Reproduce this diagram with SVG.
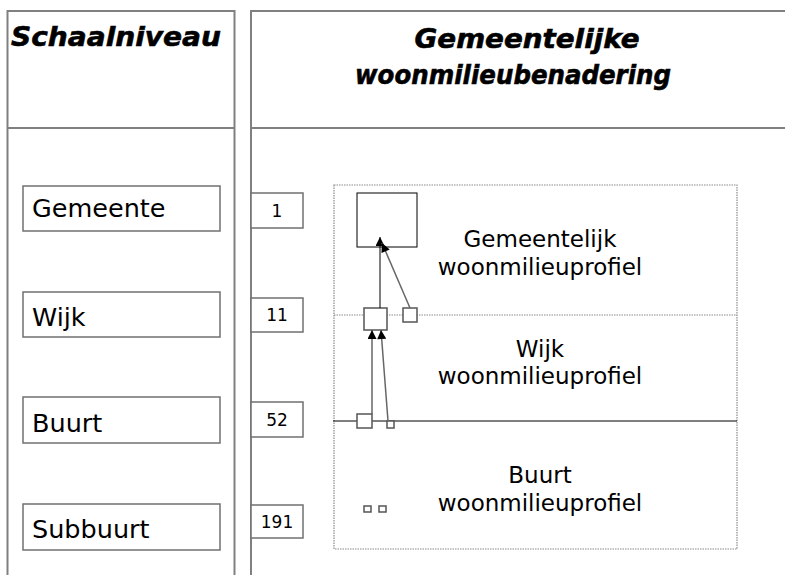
<svg xmlns="http://www.w3.org/2000/svg" width="785" height="575" viewBox="0 0 785 575">
<style>
.frame{fill:none;stroke:#808080;stroke-width:2}
.box{fill:#fff;stroke:#707070;stroke-width:1.5}
.lbl{font-family:"DejaVu Sans",Verdana,sans-serif;fill:#000}
.hdr{font-family:"DejaVu Sans",Verdana,sans-serif;font-weight:bold;font-style:italic;font-size:27px;fill:#000;stroke:#000;stroke-width:0.6;text-anchor:middle}
.num{font-family:"DejaVu Sans",Verdana,sans-serif;font-size:17px;fill:#000;text-anchor:middle}
.prof{font-family:"DejaVu Sans",Verdana,sans-serif;font-size:23px;fill:#000;text-anchor:middle}
.dot{fill:none;stroke:#8a8a8a;stroke-width:1.2;stroke-dasharray:1.5 1}
.sq{fill:#fff;stroke:#000;stroke-width:1}
.sqg{fill:#fff;stroke:#555;stroke-width:1.5}
.arr{fill:none;stroke:#000;stroke-width:1;marker-end:url(#ah)}
.arrg{fill:none;stroke:#666;stroke-width:1.5;marker-end:url(#ah)}
</style>
<defs>
<marker id="ah" viewBox="0 0 10 10" refX="10" refY="5" markerWidth="10" markerHeight="9" markerUnits="userSpaceOnUse" orient="auto">
<path d="M0,0 L10,5 L0,10 Z" fill="#000"/>
</marker>
</defs>
<rect width="785" height="575" fill="#fff"/>
<g id="frame">
<path class="frame" d="M7.5,575 V11 H234.5 V575 M7.5,128 H234.5"/>
<path class="frame" d="M251,575 V11 H785 M251,128 H785"/>
</g>
<g id="headers">
<text class="hdr" x="116" y="46" textLength="210" lengthAdjust="spacingAndGlyphs">Schaalniveau</text>
<text class="hdr" x="527" y="48" textLength="225" lengthAdjust="spacingAndGlyphs">Gemeentelijke</text>
<text class="hdr" x="513" y="84" font-size="28" textLength="316" lengthAdjust="spacingAndGlyphs">woonmilieubenadering</text>
</g>
<g id="level-gemeente"><rect class="box" x="23" y="186" width="197" height="45"/><text class="lbl" x="32" y="217" font-size="25.5">Gemeente</text></g>
<g id="level-wijk"><rect class="box" x="23" y="292" width="197" height="45"/><text class="lbl" x="32" y="326" font-size="25.5">Wijk</text></g>
<g id="level-buurt"><rect class="box" x="23" y="397" width="197" height="46"/><text class="lbl" x="32" y="432" font-size="25.5">Buurt</text></g>
<g id="level-subbuurt"><rect class="box" x="23" y="504" width="197" height="46"/><text class="lbl" x="32" y="538" font-size="25.5">Subbuurt</text></g>
<g id="count-1"><rect class="box" x="251" y="193" width="52" height="35"/><text class="num" x="277" y="217">1</text></g>
<g id="count-11"><rect class="box" x="251" y="298" width="52" height="34"/><text class="num" x="277" y="321">11</text></g>
<g id="count-52"><rect class="box" x="251" y="402" width="52" height="35"/><text class="num" x="277" y="426">52</text></g>
<g id="count-191"><rect class="box" x="251" y="505" width="52" height="33"/><text class="num" x="277" y="528">191</text></g>
<g id="profile-area">
<rect class="dot" x="334" y="185" width="403" height="364"/>
<line class="dot" x1="334" y1="315" x2="737" y2="315"/>
<line x1="333" y1="421" x2="737" y2="421" stroke="#000" stroke-width="1.2"/>
</g>
<g id="label-gemeentelijk"><text class="prof" x="540" y="247">Gemeentelijk</text><text class="prof" x="540" y="275">woonmilieuprofiel</text></g>
<g id="label-wijk"><text class="prof" x="540" y="357">Wijk</text><text class="prof" x="540" y="384">woonmilieuprofiel</text></g>
<g id="label-buurt"><text class="prof" x="540" y="483">Buurt</text><text class="prof" x="540" y="511">woonmilieuprofiel</text></g>
<g id="node-gemeente"><rect class="sq" x="357" y="193" width="60" height="54"/></g>
<g id="node-wijk"><rect class="sqg" x="364" y="308" width="23" height="22"/></g>
<g id="node-wijk-small"><rect class="sqg" x="403" y="308" width="14" height="14"/></g>
<g id="node-buurt"><rect class="sqg" x="357" y="414" width="15" height="14"/></g>
<g id="node-buurt-small"><rect class="sqg" x="387" y="421" width="7" height="7"/></g>
<g id="node-subbuurt-1"><rect class="sqg" x="364" y="506" width="7" height="6" stroke-width="1.2"/></g>
<g id="node-subbuurt-2"><rect class="sqg" x="379" y="506" width="7" height="6" stroke-width="1.2"/></g>
<g id="connectors">
<line class="arr" x1="380" y1="308" x2="380" y2="237"/>
<line class="arrg" x1="410" y1="308" x2="382" y2="243"/>
<line class="arrg" x1="372" y1="414" x2="372" y2="330"/>
<line class="arrg" x1="388" y1="421" x2="381" y2="330"/>
</g>
</svg>
